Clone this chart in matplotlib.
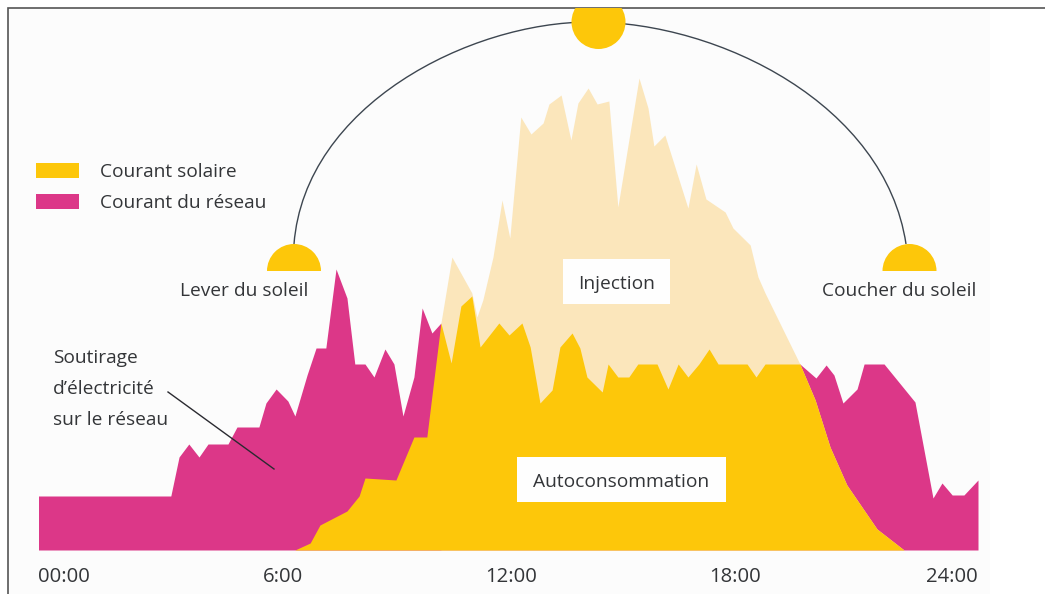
#!/usr/bin/env python3
"""Daily solar production vs household consumption, with the sun's arc above."""

import matplotlib
matplotlib.use("Agg")
import matplotlib.pyplot as plt
import numpy as np
from matplotlib.patches import Circle, PathPatch, Rectangle, Wedge
from matplotlib.path import Path

plt.rcParams["font.family"] = ["Open Sans", "DejaVu Sans"]

# Household consumption: hours, kW
conso_h = [0, 3.38, 3.59, 3.84, 4.10, 4.33, 4.84, 5.07, 5.63, 5.81, 6.07, 6.37, 6.55, 6.86,
           7.09, 7.34, 7.60, 7.88, 8.08, 8.34, 8.57, 8.85, 9.08, 9.31, 9.59, 9.80, 10.05,
           10.28, 10.54, 10.79, 11.07, 11.28, 11.76, 12.02, 12.35, 12.56, 12.81, 13.12,
           13.32, 13.63, 13.83, 14.01, 14.40, 14.55, 14.80, 15.08, 15.31, 15.80, 16.08,
           16.34, 16.59, 16.87, 17.13, 17.36, 18.10, 18.33, 18.56, 19.45, 19.86, 20.12,
           20.32, 20.55, 20.91, 21.09, 21.60, 22.39, 22.85, 23.08, 23.34, 23.64, 24]
conso_kw = [0.54, 0.54, 0.93, 1.06, 0.93, 1.06, 1.06, 1.23, 1.23, 1.47, 1.61, 1.49, 1.34, 1.75,
            2.02, 2.02, 2.81, 2.52, 1.86, 1.86, 1.73, 2.01, 1.86, 1.34, 1.73, 2.42, 2.17,
            2.27, 1.87, 2.44, 2.54, 2.03, 2.27, 2.15, 2.27, 2.03, 1.47, 1.60,
            2.03, 2.17, 2.02, 1.73, 1.58, 1.86, 1.73, 1.73, 1.86, 1.86, 1.61,
            1.86, 1.73, 1.86, 2.01, 1.86, 1.86, 1.73, 1.86, 1.86, 1.72, 1.85,
            1.75, 1.47, 1.61, 1.86, 1.86, 1.48, 0.52, 0.67, 0.55, 0.55, 0.70]

# Solar production: hours, kW
solar_h = [6.55, 6.94, 7.19, 7.88, 8.19, 8.34, 9.13, 9.59, 9.92, 10.28, 10.56, 11.07, 11.20,
           11.35, 11.61, 11.84, 12.04, 12.32, 12.58, 12.89, 13.04, 13.35, 13.60, 13.78,
           14.04, 14.27, 14.57, 14.80, 15.34, 15.57, 15.72, 16.00, 16.59, 16.80, 17.05,
           17.54, 17.74, 18.18, 18.38, 18.56, 19.45, 19.84, 20.22, 20.65, 21.42, 22.11]
solar_kw = [0, 0.07, 0.25, 0.39, 0.54, 0.72, 0.70, 1.13, 1.13, 2.27, 2.93, 2.57, 2.33,
            2.50, 2.93, 3.50, 3.12, 4.33, 4.16, 4.27, 4.46, 4.55, 4.10, 4.47,
            4.62, 4.46, 4.49, 3.43, 4.72, 4.42, 4.04, 4.15, 3.42, 3.86, 3.51,
            3.38, 3.22, 3.05, 2.73, 2.57, 1.86, 1.50, 1.03, 0.65, 0.21, 0]

tick_labels = ["00:00", "6:00", "12:00", "18:00", "24:00"]
# labels sit a bit off the true hour in the original
tick_pos = [0, 6.25, 12.07, 17.79, 24]
tick_ha = ["left", "center", "center", "center", "right"]

YELLOW = "#FDC70A"
PINK = "#DC3788"
PALE = "#FBE6BB"
TEXT = "#333538"
W, H = 1045, 594

conso_h = np.array(conso_h)
conso_kw = np.array(conso_kw)
solar_h = np.array(solar_h)
solar_kw = np.array(solar_kw)

# self consumption follows solar outside the midday surplus, consumption inside it
cross_on, cross_off = 10.28, 19.45
before = solar_h <= cross_on
after = solar_h >= cross_off
mid = (conso_h > cross_on) & (conso_h < cross_off)
auto_h = np.concatenate([solar_h[before], conso_h[mid], solar_h[after]])
auto_kw = np.concatenate([solar_kw[before], conso_kw[mid], solar_kw[after]])

fig = plt.figure(figsize=(W / 100, H / 100), dpi=100, facecolor="white")

# overlay in pixel coordinates for the frame, sun and labels
bg = fig.add_axes([0, 0, 1, 1])
bg.set_xlim(0, W)
bg.set_ylim(H, 0)
bg.axis("off")
bg.add_patch(Rectangle((8, 8), 982, H - 8, fc="#FCFCFC", ec="none"))

ax = fig.add_axes([38.5 / W, 44 / H, 939.5 / W, 550 / H])
ax.patch.set_alpha(0)
ax.set_xlim(0, 24)
ax.set_ylim(0, 5.5)
ax.fill_between(conso_h, conso_kw, color=PINK, lw=0)
ax.fill_between(solar_h[solar_h >= cross_on], solar_kw[solar_h >= cross_on], color=PALE, lw=0)
ax.fill_between(auto_h, auto_kw, color=YELLOW, lw=0)
for s in ax.spines.values():
    s.set_visible(False)
ax.set_yticks([])
ax.set_xticks(tick_pos)
ax.set_xticklabels(tick_labels, fontsize=14.6, color=TEXT)
for lab, ha in zip(ax.get_xticklabels(), tick_ha):
    lab.set_ha(ha)
ax.tick_params(axis="x", length=0, pad=12)

ov = fig.add_axes([0, 0, 1, 1])
ov.set_xlim(0, W)
ov.set_ylim(H, 0)
ov.axis("off")
ov.patch.set_alpha(0)

ov.plot([8, 8, W], [H, 8, 8], color="#555555", lw=1.2, solid_joinstyle="miter")

# sun's path is flatter than an ellipse, peak slightly left of centre
arc_verts = [(294, 244), (305, 105), (470, 22), (590, 22), (720, 22), (885, 105), (906, 244)]
arc_codes = [Path.MOVETO] + [Path.CURVE4] * 6
ov.add_patch(PathPatch(Path(arc_verts, arc_codes), fc="none", ec="#3d4650", lw=1))

# sun, cut off at the frame
sun = Circle((598.5, 22), 27, fc=YELLOW, ec="none", zorder=3)
ov.add_patch(sun)
sun.set_clip_path(Rectangle((0, 8), W, H, transform=ov.transData))
ov.add_patch(Wedge((294, 271), 27, 180, 360, fc=YELLOW, ec="none"))
ov.add_patch(Wedge((909.5, 271), 27, 180, 360, fc=YELLOW, ec="none"))

# legend
ov.add_patch(Rectangle((36, 163), 43, 15, fc=YELLOW, ec="none"))
ov.add_patch(Rectangle((36, 194), 43, 15, fc=PINK, ec="none"))
txt = dict(color=TEXT, fontsize=13.8, va="center")
ov.text(100, 172, "Courant solaire", **txt)
ov.text(100, 203, "Courant du réseau", **txt)

ov.text(244, 291, "Lever du soleil", ha="center", **txt)
ov.text(899, 291, "Coucher du soleil", ha="center", **txt)
ov.text(53, 358, "Soutirage", **txt)
ov.text(53, 389, "d’électricité", **txt)
ov.text(53, 420, "sur le réseau", **txt)
ov.plot([168, 274], [392, 469], color="#2a2a30", lw=1)

ov.add_patch(Rectangle((563, 259), 107, 45, fc="#FEFEFE", ec="none"))
ov.text(616.5, 284, "Injection", ha="center", **txt)
ov.add_patch(Rectangle((517, 457), 209, 45, fc="#FEFEFE", ec="none"))
ov.text(621, 482, "Autoconsommation", ha="center", **txt)

fig.savefig("out.png", dpi=100)
